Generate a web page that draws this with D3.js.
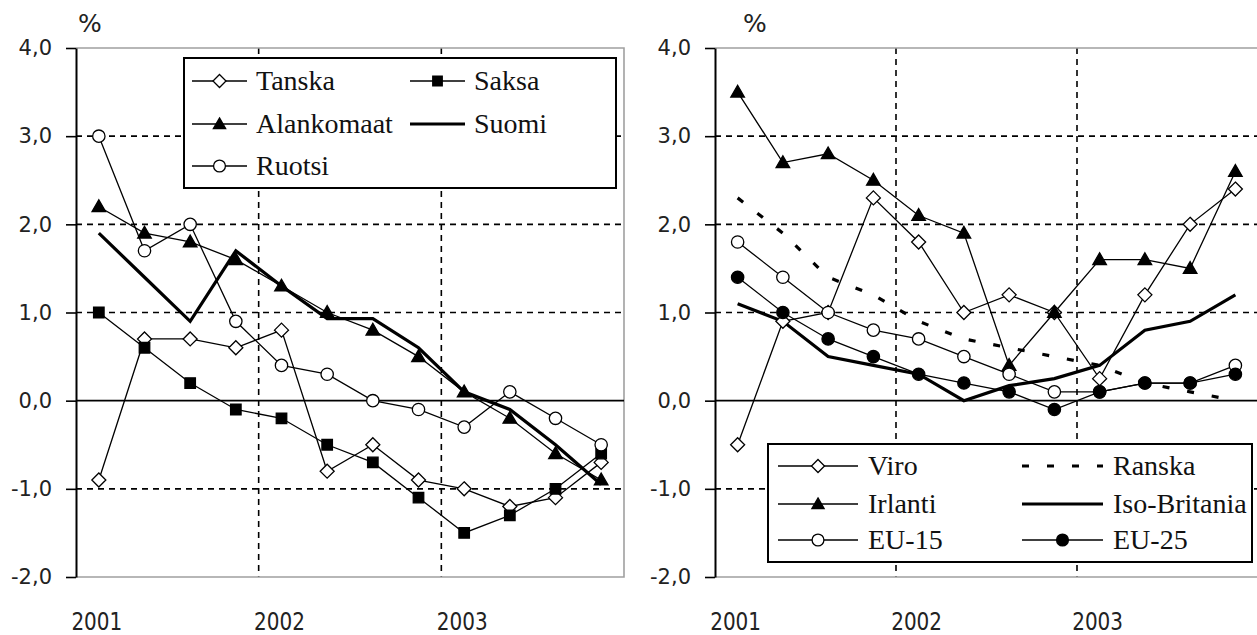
<!DOCTYPE html>
<html>
<head>
<meta charset="utf-8">
<script src="https://cdn.jsdelivr.net/npm/d3@7/dist/d3.min.js"></script>
<style>
  html, body { margin: 0; padding: 0; background: #fff; }
  svg { display: block; }
</style>
</head>
<body>
<svg id="chart" width="1257" height="635"></svg>
<script>
// ---------------- DATA ----------------
const quarters = ["2001Q1","2001Q2","2001Q3","2001Q4","2002Q1","2002Q2","2002Q3","2002Q4","2003Q1","2003Q2","2003Q3","2003Q4"];
const yearLabels = ["2001","2002","2003"];
const yTicks = [-2, -1, 0, 1, 2, 3, 4];
const gridValues = [-1, 1, 2, 3];

// left panel
const tanska     = [-0.9, 0.7, 0.7, 0.6, 0.8, -0.8, -0.5, -0.9, -1.0, -1.2, -1.1, -0.7];
const saksa      = [1.0, 0.6, 0.2, -0.1, -0.2, -0.5, -0.7, -1.1, -1.5, -1.3, -1.0, -0.6];
const alankomaat = [2.2, 1.9, 1.8, 1.6, 1.3, 1.0, 0.8, 0.5, 0.1, -0.2, -0.6, -0.9];
const suomi      = [1.9, 1.4, 0.9, 1.7, 1.3, 0.93, 0.93, 0.6, 0.1, -0.1, -0.5, -0.95];
const ruotsi     = [3.0, 1.7, 2.0, 0.9, 0.4, 0.3, 0.0, -0.1, -0.3, 0.1, -0.2, -0.5];

// right panel
const viro        = [-0.5, 0.9, 1.0, 2.3, 1.8, 1.0, 1.2, 1.0, 0.25, 1.2, 2.0, 2.4];
const irlanti     = [3.5, 2.7, 2.8, 2.5, 2.1, 1.9, 0.4, 1.0, 1.6, 1.6, 1.5, 2.6];
const ranska      = [2.3, 1.9, 1.4, 1.2, 0.9, 0.7, 0.6, 0.5, 0.4, 0.2, 0.1, 0.0];
const isoBritania = [1.1, 0.9, 0.5, 0.4, 0.3, 0.0, 0.17, 0.25, 0.4, 0.8, 0.9, 1.2];
const eu15        = [1.8, 1.4, 1.0, 0.8, 0.7, 0.5, 0.3, 0.1, 0.1, 0.2, 0.2, 0.4];
const eu25        = [1.4, 1.0, 0.7, 0.5, 0.3, 0.2, 0.1, -0.1, 0.1, 0.2, 0.2, 0.3];

// ---------------- STYLES ----------------
const SERIF = "'Liberation Serif', 'Times New Roman', serif";
const SANS = "'DejaVu Sans', Verdana, sans-serif";
const styles = {
  diamondOpen:  { marker: "diamond",  fill: "#fff", lw: 1.3 },
  squareFilled: { marker: "square",   fill: "#000", lw: 1.3 },
  triFilled:    { marker: "triangle", fill: "#000", lw: 1.3 },
  circleOpen:   { marker: "circle",   fill: "#fff", lw: 1.3 },
  circleFilled: { marker: "circle",   fill: "#000", lw: 1.3 },
  thick:        { marker: null, lw: 3.2 },
  dashedThick:  { marker: null, lw: 3.2, dash: "7,18" }
};

const leftSeries = [
  { name: "Tanska", values: tanska, st: styles.diamondOpen },
  { name: "Saksa", values: saksa, st: styles.squareFilled },
  { name: "Alankomaat", values: alankomaat, st: styles.triFilled },
  { name: "Suomi", values: suomi, st: styles.thick },
  { name: "Ruotsi", values: ruotsi, st: styles.circleOpen }
];
const rightSeries = [
  { name: "Viro", values: viro, st: styles.diamondOpen },
  { name: "Ranska", values: ranska, st: styles.dashedThick },
  { name: "Irlanti", values: irlanti, st: styles.triFilled },
  { name: "Iso-Britania", values: isoBritania, st: styles.thick },
  { name: "EU-15", values: eu15, st: styles.circleOpen },
  { name: "EU-25", values: eu25, st: styles.circleFilled }
];

const svg = d3.select("#chart");
const fmt = d => d3.format(".1f")(d).replace(".", ",").replace("\u2212", "-");

function drawMarker(g, type, cx, cy, fill, legend) {
  let sym;
  if (type === "diamond") {
    const s = legend ? 6.5 : 7;
    g.append("path")
      .attr("d", `M${cx},${cy - s}L${cx + s},${cy}L${cx},${cy + s}L${cx - s},${cy}Z`)
      .attr("fill", fill).attr("stroke", "#000").attr("stroke-width", 1.3);
    return;
  }
  if (type === "square") sym = d3.symbol().type(d3.symbolSquare).size(legend ? 90 : 110);
  else if (type === "triangle") sym = d3.symbol().type(d3.symbolTriangle).size(legend ? 65 : 80);
  else sym = d3.symbol().type(d3.symbolCircle).size(legend ? 110 : 120);
  g.append("path").attr("d", sym())
    .attr("transform", `translate(${cx},${cy + (type === "triangle" ? 1 : 0)})`)
    .attr("fill", fill).attr("stroke", "#000").attr("stroke-width", 1.3);
}

function drawPanel(cfg) {
  const g = svg.append("g");
  const x = d3.scalePoint().domain(quarters).range([cfg.x0, cfg.x1]).padding(0.5);
  const step = x.step();
  const y = d3.scaleLinear().domain([-2, 4]).range([577, 48]);

  // horizontal dashed grid
  g.selectAll(".hg").data(gridValues).join("line")
    .attr("x1", cfg.x0).attr("x2", cfg.x1)
    .attr("y1", d => y(d)).attr("y2", d => y(d))
    .attr("stroke", "#000").attr("stroke-width", 1.6).attr("stroke-dasharray", "6,5");
  // vertical dashed grid at year boundaries
  const yearStarts = yearLabels.slice(1).map(yr => quarters.indexOf(yr + "Q1"));
  g.selectAll(".vg").data(yearStarts).join("line")
    .attr("x1", i => cfg.x0 + i * step).attr("x2", i => cfg.x0 + i * step)
    .attr("y1", y(4)).attr("y2", y(-2))
    .attr("stroke", "#000").attr("stroke-width", 1.6).attr("stroke-dasharray", "6,5");

  // plot border (grey)
  g.append("path")
    .attr("d", `M${cfg.x0},${y(4)}H${cfg.x1}V${y(-2)}H${cfg.x0}`)
    .attr("fill", "none").attr("stroke", "#a0a0a0").attr("stroke-width", 1.6);

  // zero line
  g.append("line").attr("x1", cfg.x0).attr("x2", cfg.x1)
    .attr("y1", y(0)).attr("y2", y(0)).attr("stroke", "#000").attr("stroke-width", 1.6);

  // y axis
  const ax = g.append("g").attr("transform", `translate(${cfg.x0},0)`)
    .call(d3.axisLeft(y).tickValues(yTicks).tickFormat(fmt).tickSize(10).tickSizeOuter(0).tickPadding(14));
  ax.select(".domain").attr("stroke", "#000").attr("stroke-width", 2);
  ax.selectAll(".tick line").attr("stroke", "#000").attr("stroke-width", 1.6);
  ax.selectAll(".tick text").style("font-family", SANS)
    .style("font-size", "21px").attr("fill", "#222");

  // % label
  g.append("text").style("font-family", SANS).attr("x", cfg.pctX).attr("y", 32)
    .style("font-size", "25px").attr("fill", "#222").text("%");

  // year labels
  yearLabels.forEach(yr => {
    const cx = x(yr + "Q1");
    g.append("text").style("font-family", SANS)
      .attr("transform", `translate(${cx - 2},630) scale(1,1.25)`)
      .attr("text-anchor", "middle")
      .style("font-size", "20px").attr("fill", "#222")
      .text(yr);
  });

  // series lines
  const line = d3.line().x((d, i) => x(quarters[i])).y(d => y(d));
  cfg.series.forEach(s => {
    g.append("path").datum(s.values).attr("d", line)
      .attr("fill", "none").attr("stroke", "#000")
      .attr("stroke-width", s.st.lw)
      .attr("stroke-dasharray", s.st.dash || null)
      .attr("stroke-linejoin", "miter");
  });
  cfg.series.forEach(s => {
    if (!s.st.marker) return;
    s.values.forEach((v, i) => drawMarker(g, s.st.marker, x(quarters[i]), y(v), s.st.fill, false));
  });

  // legend
  const L = cfg.legend;
  const lg = g.append("g");
  lg.append("rect").attr("x", L.x).attr("y", L.y).attr("width", L.w).attr("height", L.h)
    .attr("fill", "#fff").attr("stroke", "#000").attr("stroke-width", 2);
  cfg.series.forEach((s, k) => {
    const col = k % 2, row = Math.floor(k / 2);
    const cy = L.rows[row];
    const lx1 = L.cols[col].l1, lx2 = L.cols[col].l2;
    lg.append("line").attr("x1", lx1).attr("x2", lx2).attr("y1", cy).attr("y2", cy)
      .attr("stroke", "#000").attr("stroke-width", s.st.lw)
      .attr("stroke-dasharray", s.st.dash || null);
    if (s.st.marker) drawMarker(lg, s.st.marker, (lx1 + lx2) / 2, cy, s.st.fill, true);
    lg.append("text").style("font-family", SERIF).style("font-size", "28px")
      .attr("x", L.cols[col].tx).attr("y", cy + 9)
      .attr("fill", "#111").text(s.name);
  });
}

drawPanel({
  x0: 76, x1: 624, pctX: 78,
  series: leftSeries,
  legend: { x: 184, y: 58, w: 432, h: 130, rows: [81, 124, 166],
            cols: [{ l1: 192, l2: 247, tx: 256 }, { l1: 410, l2: 465, tx: 474 }] }
});
drawPanel({
  x0: 715, x1: 1258, pctX: 743,
  series: rightSeries,
  legend: { x: 768, y: 444, w: 484, h: 118, rows: [466, 504, 540],
            cols: [{ l1: 778, l2: 858, tx: 868 }, { l1: 1022, l2: 1103, tx: 1113 }] }
});
</script>
</body>
</html>
